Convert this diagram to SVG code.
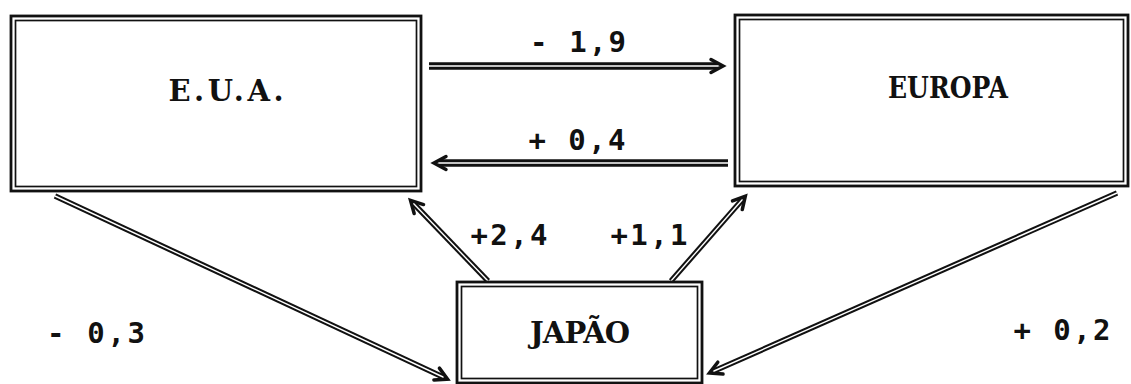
<svg xmlns="http://www.w3.org/2000/svg" width="1131" height="384" viewBox="0 0 1131 384">
  <style>
    .frame-out { fill: #fff; stroke: #111; stroke-width: 2.8; }
    .frame-in { fill: none; stroke: #111; stroke-width: 1.7; }
    .name { font-family: "DejaVu Serif", "Liberation Serif", serif; font-weight: bold; font-size: 29px; fill: #111; text-anchor: middle; }
    .value { font-family: "DejaVu Sans Mono", "Liberation Mono", monospace; font-weight: bold; font-size: 29px; fill: #111; text-anchor: middle; }
    .casing { fill: none; stroke: #111; stroke-width: 7.5; }
    .casing.thin { stroke-width: 5.5; }
    .core { fill: none; stroke: #fff; stroke-width: 1.4; }
    .head { fill: none; stroke: #111; stroke-width: 3.5; stroke-linecap: round; stroke-linejoin: miter; }
  </style>
  <defs>
    <marker id="head" markerUnits="userSpaceOnUse" viewBox="-16 -10 22 20" refX="-5" refY="0" markerWidth="22" markerHeight="20" orient="auto" overflow="visible">
      <path class="head" d="M -12,-6.5 L 0,0 L -12,6.5"/>
    </marker>
  </defs>

  <rect width="1131" height="384" fill="#fff"/>

  <!-- connectors: double ruled lines with open chevron heads -->
  <g id="connectors">
    <!-- E.U.A. to EUROPA -->
    <path class="casing" d="M 429,66 L 718,66" marker-end="url(#head)"/>
    <path class="core" d="M 429,66 L 718,66"/>
    <!-- EUROPA to E.U.A. -->
    <path class="casing" d="M 728,163 L 439,163" marker-end="url(#head)"/>
    <path class="core" d="M 728,163 L 439,163"/>
    <!-- E.U.A. to JAPÃO -->
    <path class="casing thin" d="M 55,196 L 443,377" marker-end="url(#head)"/>
    <path class="core" d="M 55,196 L 443,377"/>
    <!-- JAPÃO to E.U.A. -->
    <path class="casing thin" d="M 488,281 L 414,204" marker-end="url(#head)"/>
    <path class="core" d="M 488,281 L 414,204"/>
    <!-- JAPÃO to EUROPA -->
    <path class="casing thin" d="M 671,281 L 742,200" marker-end="url(#head)"/>
    <path class="core" d="M 671,281 L 742,200"/>
    <!-- EUROPA to JAPÃO -->
    <path class="casing thin" d="M 1117,193 L 714,371" marker-end="url(#head)"/>
    <path class="core" d="M 1117,193 L 714,371"/>
  </g>

  <g id="node-eua">
    <rect class="frame-out" x="11" y="16" width="410" height="175"/>
    <rect class="frame-in" x="15.5" y="20.5" width="401" height="166"/>
    <text class="name" x="226" y="101" textLength="115" lengthAdjust="spacing">E.U.A.</text>
  </g>

  <g id="node-europa">
    <rect class="frame-out" x="735" y="15" width="393" height="171"/>
    <rect class="frame-in" x="739.5" y="19.5" width="384" height="162"/>
    <text class="name" x="948" y="98" textLength="120" lengthAdjust="spacingAndGlyphs">EUROPA</text>
  </g>

  <g id="node-japao">
    <rect class="frame-out" x="457" y="282" width="245" height="101"/>
    <rect class="frame-in" x="461.5" y="286.5" width="236" height="92"/>
    <text class="name" x="580" y="343" textLength="100" lengthAdjust="spacing">JAPÃO</text>
  </g>

  <g id="labels">
    <text class="value" x="578" y="52" textLength="96" lengthAdjust="spacing">- 1,9</text>
    <text class="value" x="577" y="150" textLength="97" lengthAdjust="spacing">+ 0,4</text>
    <text class="value" x="509" y="245" textLength="77" lengthAdjust="spacing">+2,4</text>
    <text class="value" x="649" y="245" textLength="77" lengthAdjust="spacing">+1,1</text>
    <text class="value" x="96" y="343" textLength="98" lengthAdjust="spacing">- 0,3</text>
    <text class="value" x="1062" y="340" textLength="97" lengthAdjust="spacing">+ 0,2</text>
  </g>
</svg>
